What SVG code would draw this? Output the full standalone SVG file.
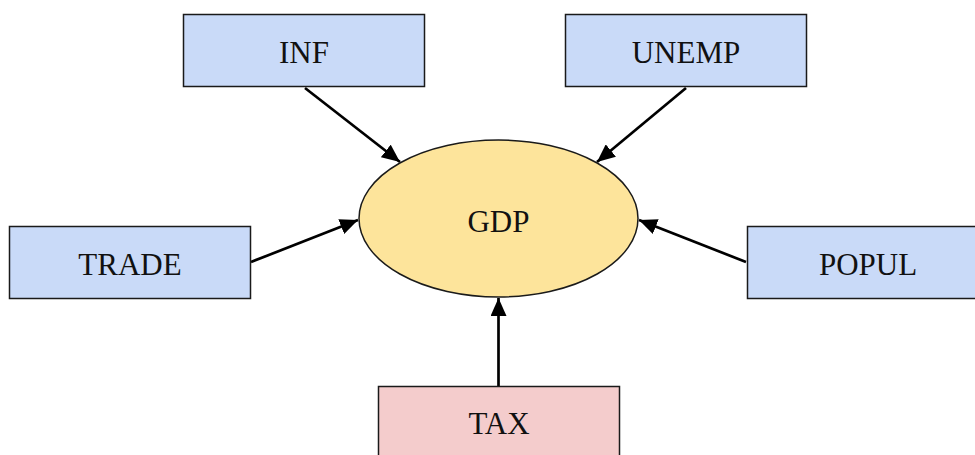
<svg xmlns="http://www.w3.org/2000/svg" width="975" height="455" viewBox="0 0 975 455">
  <style>
    .box { stroke: #1a1a1a; stroke-width: 1.5; }
    .blue { fill: #c9daf8; }
    .red { fill: #f4cccc; }
    .oval { fill: #fde49b; stroke: #1a1a1a; stroke-width: 1.5; }
    .label { font-family: "Liberation Serif", "Times New Roman", serif; font-size: 31px; fill: #111; text-anchor: middle; }
    .edge { stroke: #000; stroke-width: 2.7; fill: none; marker-end: url(#arrow); }
  </style>
  <defs>
    <marker id="arrow" markerUnits="userSpaceOnUse" markerWidth="20" markerHeight="16" refX="18" refY="8" orient="auto">
      <path d="M0,0 L18,8 L0,16 Z" fill="#000"/>
    </marker>
  </defs>
  <rect width="975" height="455" fill="#fff"/>

  <g id="connectors">
    <line class="edge" x1="305" y1="88" x2="400" y2="162"/>
    <line class="edge" x1="686" y1="88" x2="597" y2="162"/>
    <line class="edge" x1="251" y1="262" x2="358" y2="220"/>
    <line class="edge" x1="746" y1="262" x2="639" y2="220"/>
    <line class="edge" x1="498.5" y1="386" x2="498.5" y2="298"/>
  </g>

  <g id="gdp">
    <ellipse class="oval" cx="498.5" cy="218.5" rx="139.5" ry="78.5"/>
    <text class="label" x="498.5" y="232">GDP</text>
  </g>
  <g id="inf">
    <rect class="box blue" x="183.5" y="14.5" width="241" height="72"/>
    <text class="label" x="304" y="63">INF</text>
  </g>
  <g id="unemp">
    <rect class="box blue" x="565.5" y="14.5" width="241" height="72"/>
    <text class="label" x="686" y="63">UNEMP</text>
  </g>
  <g id="trade">
    <rect class="box blue" x="9.5" y="226.5" width="241" height="72"/>
    <text class="label" x="130" y="275">TRADE</text>
  </g>
  <g id="popul">
    <rect class="box blue" x="747.5" y="226.5" width="241" height="72"/>
    <text class="label" x="868" y="275">POPUL</text>
  </g>
  <g id="tax">
    <rect class="box red" x="378.5" y="386.5" width="241" height="72"/>
    <text class="label" x="499" y="434">TAX</text>
  </g>
</svg>
